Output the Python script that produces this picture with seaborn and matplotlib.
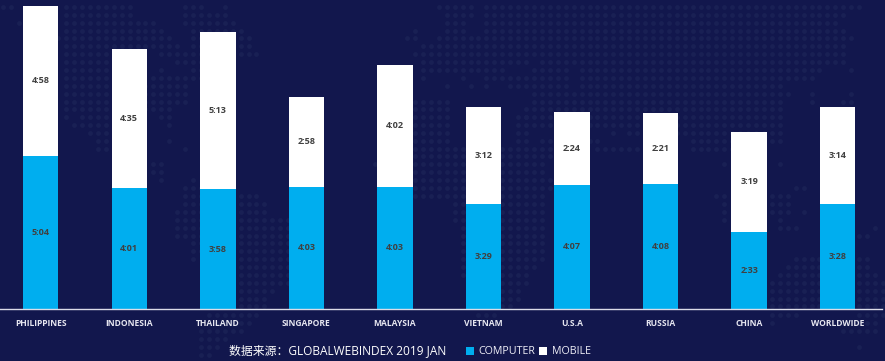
import numpy as np
import pandas as pd
import seaborn as sns
import matplotlib
import matplotlib.pyplot as plt
from matplotlib.patches import Patch

matplotlib.use('Agg')

# Daily internet time, h:mm as printed on the bars
countries = ['PHILIPPINES', 'INDONESIA', 'THAILAND', 'SINGAPORE', 'MALAYSIA',
             'VIETNAM', 'U.S.A', 'RUSSIA', 'CHINA', 'WORLDWIDE']
computer_labels = ['5:04', '4:01', '3:58', '4:03', '4:03', '3:29', '4:07', '4:08', '2:33', '3:28']
mobile_labels = ['4:58', '4:35', '5:13', '2:58', '4:02', '3:12', '2:24', '2:21', '3:19', '3:14']


def to_minutes(label):
    hours, minutes = label.split(':')
    return int(hours) * 60 + int(minutes)


df = pd.DataFrame({
    'country': countries,
    'computer': [to_minutes(v) for v in computer_labels],
    'mobile': [to_minutes(v) for v in mobile_labels],
})

# Faint dotted world map behind the bars: row y (px) -> x spans (px)
map_rows = {
    7: [(0, 14), (65, 130), (183, 200), (225, 225), (435, 470), (490, 863)],
    15: [(65, 130), (183, 225), (443, 470), (483, 840)],
    23: [(18, 18), (65, 155), (183, 232), (443, 462), (483, 833)],
    31: [(65, 160), (190, 240), (413, 413), (443, 463), (483, 840)],
    38: [(55, 170), (190, 247), (405, 413), (437, 850)],
    46: [(65, 175), (195, 250), (420, 847)],
    54: [(63, 110), (160, 260), (413, 840)],
    62: [(63, 110), (177, 200), (420, 523), (540, 840)],
    70: [(63, 110), (162, 162), (190, 200), (420, 502), (537, 563), (578, 823), (855, 855)],
    78: [(63, 110), (153, 197), (420, 420), (460, 460), (483, 500), (513, 523), (537, 563), (578, 810)],
    86: [(63, 187), (445, 445), (468, 468), (485, 485), (508, 563), (585, 780)],
    94: [(63, 187), (532, 787), (808, 808), (848, 848)],
    102: [(63, 187), (413, 443), (532, 783), (808, 808), (840, 848)],
    109: [(63, 170), (413, 443), (530, 783)],
    117: [(67, 67), (83, 123), (160, 170), (413, 443), (515, 523), (530, 783)],
    125: [(73, 123), (170, 170), (413, 443), (515, 780)],
    133: [(90, 107), (413, 443), (515, 523), (610, 610), (627, 777)],
    141: [(98, 107), (170, 170), (413, 447), (515, 523), (540, 597), (690, 777)],
    149: [(98, 107), (185, 185), (413, 465), (505, 548), (595, 640), (690, 760)],
    156: [(413, 465), (505, 548)],
    164: [(152, 163), (372, 372), (413, 465), (505, 542), (725, 725), (783, 783)],
    172: [(152, 163), (413, 465), (505, 542)],
    180: [(160, 160), (192, 192), (413, 465), (505, 548)],
    188: [(183, 197), (413, 465), (505, 548), (793, 800)],
    196: [(183, 197), (238, 258), (413, 465), (505, 542), (713, 722), (775, 785)],
    204: [(183, 197), (238, 267), (452, 465), (505, 542), (722, 722), (775, 785)],
    212: [(177, 197), (238, 267), (452, 465), (505, 542), (725, 725), (775, 785), (807, 807)],
    220: [(177, 197), (238, 288), (452, 465), (505, 542), (725, 725), (783, 783)],
    228: [(177, 197), (238, 288), (460, 465), (505, 542), (783, 792), (878, 878)],
    236: [(177, 197), (238, 288), (460, 465), (505, 542), (858, 865)],
    243: [(192, 197), (238, 288), (460, 465), (505, 542)],
    251: [(192, 197), (238, 288), (460, 465), (505, 542)],
    259: [(192, 192), (238, 288), (460, 465), (505, 542), (798, 818), (858, 865)],
    267: [(238, 288), (460, 465), (505, 532), (790, 818), (858, 865)],
    275: [(238, 288), (460, 465), (505, 525), (782, 818), (858, 872)],
    283: [(238, 288), (505, 525), (775, 818), (858, 882)],
    291: [(238, 270), (505, 518), (775, 818), (858, 882)],
    299: [(238, 263), (505, 518), (775, 818), (858, 882)],
    306: [(238, 263), (505, 510), (775, 818), (858, 882)],
    315: [(207, 257), (475, 498), (775, 795), (858, 882)],
    323: [(207, 248), (775, 775), (858, 872)],
    331: [(200, 240), (845, 872)],
    339: [(200, 223)],
    347: [(200, 217), (863, 863)],
    355: [(200, 210)],
}

sns.set_theme(style='white')
plt.rcParams['font.family'] = ['Open Sans', 'Noto Sans CJK SC', 'DejaVu Sans']

bg = '#12174d'
fig = plt.figure(figsize=(8.85, 3.61), dpi=100, facecolor=bg)

# Background layer in pixel coordinates
bg_ax = fig.add_axes([0, 0, 1, 1], zorder=0)
bg_ax.set_xlim(0, 885)
bg_ax.set_ylim(361, 0)
bg_ax.axis('off')
grid_x = 2.7 + 7.93 * np.arange(112)
dots_x, dots_y = [], []
for row_y, spans in map_rows.items():
    for x0, x1 in spans:
        for gx in grid_x:
            if x0 - 4 <= gx <= x1 + 4:
                dots_x.append(gx)
                dots_y.append(row_y)
bg_ax.scatter(dots_x, dots_y, s=12, color='#192054', linewidths=0)

ax = fig.add_axes([0, 52 / 361, 882 / 885, 309 / 361], zorder=1)
ax.patch.set_alpha(0)

sns.barplot(data=df, x='country', y='computer', color='#00aeef', saturation=1,
            width=0.4, errorbar=None, linewidth=0, ax=ax)
sns.barplot(data=df, x='country', y='mobile', bottom=df['computer'], color='white',
            saturation=1, width=0.4, errorbar=None, linewidth=0, ax=ax)

label_font = dict(fontsize=6.5, fontweight='bold', color='#404040')
ax.bar_label(ax.containers[0], labels=computer_labels, label_type='center', **label_font)
ax.bar_label(ax.containers[1], labels=mobile_labels, label_type='center', **label_font)

ax.set_xlim(-0.46, 9.5)
ax.set_ylim(0, 613.8)
ax.set_xlabel('')
ax.set_ylabel('')
ax.set_yticks([])
ax.tick_params(axis='x', length=0, pad=7.5, labelsize=6.1, labelcolor='#e6e6f0')
for tick in ax.get_xticklabels():
    tick.set_fontweight('bold')
sns.despine(ax=ax, left=True)
ax.spines['bottom'].set_color('#dcdce8')
ax.spines['bottom'].set_linewidth(1)

fig.text(229 / 885, 1 - 351 / 361, '数据来源：GLOBALWEBINDEX 2019 JAN', fontsize=8.55,
         color='white', ha='left', va='center')

handles = [Patch(facecolor='#00aeef', linewidth=0, label='COMPUTER'),
           Patch(facecolor='white', linewidth=0, label='MOBILE')]
fig.legend(handles=handles, loc='center left', bbox_to_anchor=(466 / 885, 1 - 352 / 361),
           ncol=2, frameon=False, fontsize=7.7, labelcolor='#f0f0f8', handlelength=0.74,
           handleheight=0.74, handletextpad=0.4, columnspacing=0.4, borderpad=0, borderaxespad=0)

fig.savefig('out.png', dpi=100, facecolor=bg)
